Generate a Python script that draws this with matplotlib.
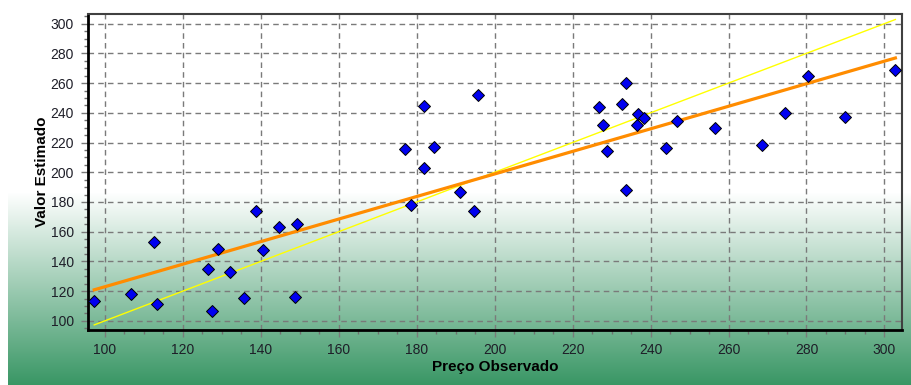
import numpy as np
import matplotlib
matplotlib.use("Agg")
import matplotlib.pyplot as plt
from matplotlib.ticker import MultipleLocator

preco_observado = [97.3, 106.7, 112.7, 113.3, 126.6, 127.6, 129.1, 132.2, 135.7,
                   138.8, 140.5, 144.8, 148.9, 149.3, 176.9, 178.6, 181.8, 181.8,
                   184.5, 191.2, 194.6, 195.7, 226.8, 227.8, 228.8, 232.7, 233.8,
                   233.8, 236.5, 236.9, 238.3, 243.9, 246.7, 256.5, 268.7, 274.6,
                   280.5, 290.0, 302.8]
valor_estimado = [113.3, 118.0, 153.0, 111.5, 134.6, 106.7, 148.1, 132.6, 115.3,
                  174.1, 147.4, 162.9, 116.2, 164.9, 215.4, 177.7, 244.6, 202.6,
                  217.2, 186.9, 174.1, 252.0, 243.9, 231.8, 214.5, 245.7, 260.3,
                  187.8, 231.8, 239.2, 236.3, 216.3, 234.5, 230.0, 218.1, 240.1,
                  265.0, 237.4, 268.6]

# reference line y = x and fitted line, endpoints
ideal_x = [97.3, 302.8]
ideal_y = [97.3, 302.8]
fit_x = [97.3, 302.8]
fit_y = [120.9, 276.9]

plt.rcParams['font.family'] = ['Liberation Sans', 'DejaVu Sans']

W, H = 911, 385
fig = plt.figure(figsize=(W / 100, H / 100), dpi=100)
fig.patch.set_facecolor('white')

# background: white on top fading into green at the bottom
bg = fig.add_axes([8 / W, 0, 1 - 8 / W, 1])
rows = np.arange(H)
t = np.clip((rows - 192) / (H - 192), 0, 1)[:, None]
top = np.array([1.0, 1.0, 1.0])
bottom = np.array([56, 150, 100]) / 255
grad = top * (1 - t) + bottom * t
bg.imshow(grad[:, None, :], aspect='auto', extent=[0, 1, 0, 1])
bg.set_axis_off()

ax = fig.add_axes([88 / W, 1 - 329.5 / H, (902 - 88) / W, (329.5 - 14) / H])
ax.set_facecolor('none')

ax.plot(ideal_x, ideal_y, color='#ffff00', lw=1.0, zorder=3)
ax.plot(fit_x, fit_y, color='#ff8c00', lw=2.3, zorder=3)
ax.plot(preco_observado, valor_estimado, 'D', color='#0000f0', mec='black',
        mew=0.7, ms=6, ls='none', zorder=4)

ax.set_xlim(95.7, 304.5)
ax.set_ylim(94.2, 306.5)
ax.xaxis.set_major_locator(MultipleLocator(20))
ax.yaxis.set_major_locator(MultipleLocator(20))
ax.xaxis.set_minor_locator(MultipleLocator(5))
ax.yaxis.set_minor_locator(MultipleLocator(5))

ax.grid(True, which='major', color='#7a7a7a', ls=(0, (4, 3)), lw=1.0)
ax.tick_params(which='major', length=5, width=1, color='#7a7a7a', pad=5,
               labelsize=10, labelcolor='#1e1e28')
ax.tick_params(which='minor', length=3, width=1, color='#707070')

for side in ['left', 'bottom']:
    ax.spines[side].set_linewidth(2)
    ax.spines[side].set_color('black')
for side in ['top', 'right']:
    ax.spines[side].set_linewidth(1.5)
    ax.spines[side].set_color('#404040')

ax.set_xlabel('Preço Observado', fontsize=11, fontweight='bold', labelpad=2)
ax.set_ylabel('Valor Estimado', fontsize=11, fontweight='bold', labelpad=1)

fig.savefig('out.png', dpi=100)
